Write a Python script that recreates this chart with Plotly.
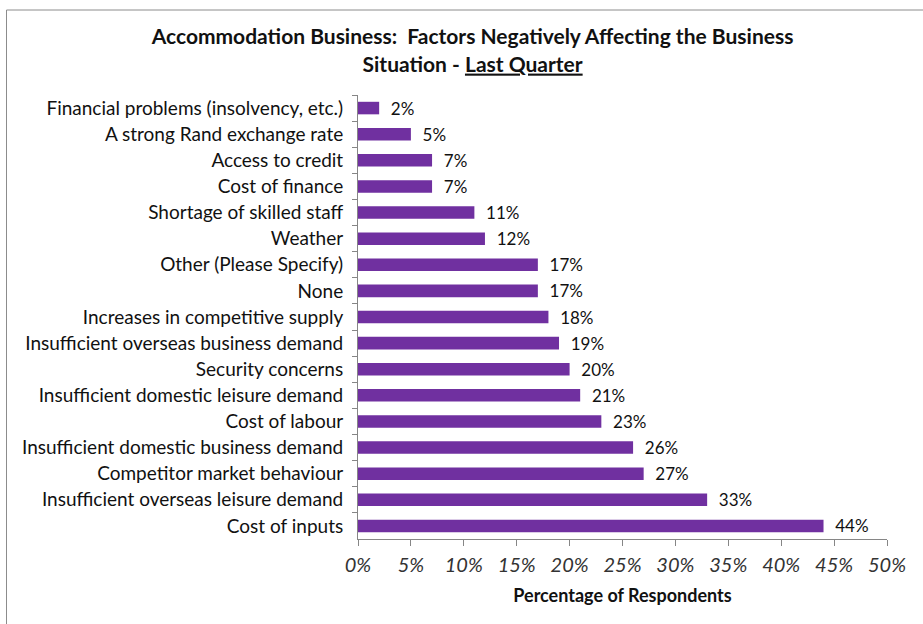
import plotly.graph_objects as go

# Factors, listed top to bottom, with the share of respondents citing each
factors = [
    "Financial problems (insolvency, etc.)",
    "A strong Rand exchange rate",
    "Access to credit",
    "Cost of finance",
    "Shortage of skilled staff",
    "Weather",
    "Other (Please Specify)",
    "None",
    "Increases in competitive supply",
    "Insufficient overseas business demand",
    "Security concerns",
    "Insufficient domestic leisure demand",
    "Cost of labour",
    "Insufficient domestic business demand",
    "Competitor market behaviour",
    "Insufficient overseas leisure demand",
    "Cost of inputs",
]
share_pct = [2, 5, 7, 7, 11, 12, 17, 17, 18, 19, 20, 21, 23, 26, 27, 33, 44]
x_ticks = [0, 5, 10, 15, 20, 25, 30, 35, 40, 45, 50]

FONT = "Lato, 'Open Sans', sans-serif"
BAR = "#7030A0"
AXIS = "#868686"
NBSP = "\u00a0"

fig = go.Figure(
    go.Bar(
        x=share_pct,
        y=factors,
        orientation="h",
        marker=dict(color=BAR, line=dict(width=0)),
        width=0.48,
        text=[f"{NBSP}{NBSP}{v}%" for v in share_pct],
        textposition="outside",
        constraintext="none",
        textfont=dict(family=FONT, size=17, color="#111"),
        cliponaxis=False,
    )
)

fig.update_layout(
    width=923,
    height=624,
    margin=dict(l=358, r=36, t=95, b=85),
    paper_bgcolor="white",
    plot_bgcolor="white",
    showlegend=False,
    title=dict(
        text="<b>Accommodation Business:  Factors Negatively Affecting the Business<br>"
        "Situation - <u>Last Quarter</u></b>",
        x=0.512,
        xanchor="center",
        y=0.929,
        yanchor="top",
        font=dict(family=FONT, size=21, color="#111"),
    ),
    font=dict(family=FONT, color="#111"),
    shapes=[
        dict(
            type="rect",
            xref="paper",
            yref="paper",
            x0=(6.5 - 358) / 529,
            x1=2.0,
            y0=-0.4,
            y1=(539 - 10) / 444,
            line=dict(color="#8c8c8c", width=1),
            fillcolor="rgba(0,0,0,0)",
            layer="below",
        )
    ],
)

fig.update_xaxes(
    range=[0, 50],
    tickvals=x_ticks,
    ticktext=[f"{t}%" for t in x_ticks],
    tickfont=dict(family=FONT, size=20, color="#333", style="italic"),
    ticks="outside",
    ticklen=6,
    tickcolor=AXIS,
    ticklabelstandoff=2,
    showline=True,
    linecolor=AXIS,
    linewidth=1,
    showgrid=False,
    zeroline=False,
    title=dict(
        text="<b>Percentage of Respondents</b>",
        font=dict(family=FONT, size=18, color="#111"),
        standoff=14,
    ),
)

fig.update_yaxes(
    autorange="reversed",
    tickfont=dict(family=FONT, size=19, color="#111"),
    ticks="outside",
    tickson="boundaries",
    ticklen=5,
    tickcolor=AXIS,
    ticklabelstandoff=10,
    showline=True,
    linecolor=AXIS,
    linewidth=1,
    showgrid=False,
)

fig.write_html("out.html")
